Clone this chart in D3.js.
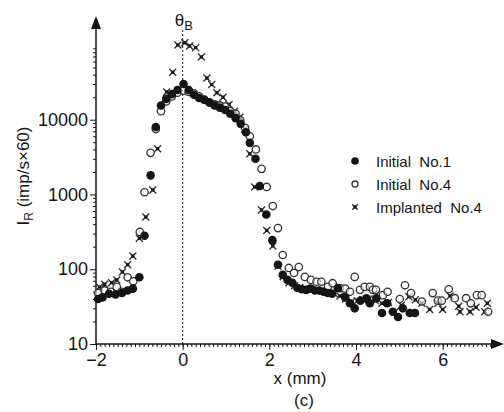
<!DOCTYPE html>
<html>
<head>
<meta charset="utf-8">
<script src="https://cdn.jsdelivr.net/npm/d3@7"></script>
<style>
  body { margin: 0; background: #fff; }
  svg { display: block; font-family: "Liberation Sans", Arial, sans-serif; }
</style>
</head>
<body>
<div id="chart"></div>
<script>
var W = 504, H = 412;

// data: x (mm), I_R (imp/s x60)
var initial1X = [-1.95,-1.85,-1.7,-1.55,-1.4,-1.27,-1.15,-1.0,-0.88,-0.74,-0.62,-0.5,-0.38,-0.25,-0.12,0.02,0.14,0.26,0.38,0.5,0.62,0.74,0.86,0.98,1.1,1.22,1.34,1.46,1.55,1.68,1.78,1.93,2.07,2.2,2.31,2.42,2.53,2.65,2.75,2.85,2.95,3.05,3.15,3.25,3.35,3.45,3.58,3.75,3.86,3.97,4.1,4.24,4.32,4.47,4.6,4.72,4.85,4.97,5.08,5.24,5.36];
var initial1Y = [40,42,47,46,48,52,55,78,280,1800,8000,15500,19000,22000,25000,30000,25000,21500,19500,18500,17000,15500,14500,13500,12000,10500,8800,6800,4900,3000,1300,540,245,115,84,72,66,56,54,53,55,52,52,50,48,47,56,42,35,30,38,41,35,41,26,35,27,23,30,26,26];

var initial4X = [-1.95,-1.8,-1.66,-1.52,-1.41,-1.27,-1.14,-0.99,-0.88,-0.74,-0.62,-0.5,-0.38,-0.25,-0.12,0.02,0.14,0.26,0.38,0.5,0.62,0.74,0.86,0.98,1.1,1.22,1.33,1.44,1.55,1.69,1.82,1.94,2.08,2.2,2.31,2.45,2.57,2.68,2.82,2.96,3.09,3.2,3.35,3.46,3.63,3.75,3.86,3.97,4.09,4.2,4.32,4.39,4.46,4.62,4.73,5.01,5.13,5.27,5.52,5.77,5.89,5.98,6.14,6.28,6.54,6.65,6.79,6.9,7.05];
var initial4Y = [48,52,50,58,50,78,69,315,1070,3600,7500,13000,17500,20500,23000,24500,23500,22500,20500,18500,17000,16000,15500,15000,13000,12000,9800,7800,6000,4000,2200,1260,700,355,155,104,89,107,79,72,68,68,58,65,56,55,50,79,53,58,58,53,53,45,50,40,61,48,37,48,38,38,54,41,41,35,45,45,27];

var implantedX = [-1.92,-1.8,-1.64,-1.52,-1.39,-1.27,-1.15,-1.0,-0.85,-0.69,-0.58,-0.37,-0.23,-0.11,0.05,0.16,0.3,0.43,0.56,0.67,0.79,0.93,1.07,1.2,1.32,1.43,1.55,1.66,1.82,1.94,2.08,2.2,2.32,2.45,2.58,2.7,2.83,2.96,3.1,3.23,3.36,3.5,3.63,3.76,3.9,4.03,4.16,4.3,4.45,4.6,4.75,4.9,5.05,5.22,5.37,5.52,5.7,5.89,6.0,6.17,6.37,6.4,6.63,6.77,6.97,7.03];
var implantedY = [58,63,66,72,92,115,150,260,500,1150,4100,23500,43000,100000,107000,97000,92000,69000,36000,29500,23000,20000,16000,13000,10800,7500,3500,1260,620,330,205,110,80,66,60,57,55,54,52,51,49,47,44,40,37,38,39,40,38,35,36,27,33,43,39,35,29,35,29,44,32,27,27,31,27,35];

var seriesNames = ['Initial  No.1', 'Initial  No.4', 'Implanted  No.4'];
var yTickValues = [10, 100, 1000, 10000];
var xTickValues = [-2, 0, 2, 4, 6];

var series = [
    {name: seriesNames[0], kind: 'filled', xs: initial1X, ys: initial1Y},
    {name: seriesNames[1], kind: 'open', xs: initial4X, ys: initial4Y},
    {name: seriesNames[2], kind: 'star', xs: implantedX, ys: implantedY}
];

var ink = '#151515';

var svg = d3.select('#chart').append('svg')
    .attr('width', W)
    .attr('height', H);

var x = d3.scaleLinear().domain([-2, 7.3]).range([96, 499]);
var y = d3.scaleLog().domain([10, Math.pow(10, 5.36)]).range([344, 18]);

// minor ticks, log decades on y, every 0.1 mm on x
var yMinor = [];
for (var d = 10; d < 100000; d *= 10)
    for (var k = 2; k <= 9; k++) yMinor.push(d * k);
var xMinor = d3.range(-20, 73).map(function (v) { return v / 10; });

svg.append('g')
    .attr('transform', 'translate(' + x(-2) + ',0)')
    .call(d3.axisLeft(y).tickValues(yMinor).tickSize(3).tickFormat(''))
    .call(function (g) { g.select('.domain').remove(); });

svg.append('g')
    .attr('transform', 'translate(0,' + y(10) + ')')
    .call(d3.axisBottom(x).tickValues(xMinor).tickSize(3).tickFormat(''))
    .call(function (g) { g.select('.domain').remove(); });

var yAxis = svg.append('g')
    .attr('transform', 'translate(' + x(-2) + ',0)')
    .call(d3.axisLeft(y).tickValues(yTickValues).tickSize(6).tickPadding(2).tickFormat(d3.format('d')));
yAxis.select('.domain').remove();
yAxis.selectAll('text').style('font-size', '18px').attr('fill', ink);

var xAxis = svg.append('g')
    .attr('transform', 'translate(0,' + y(10) + ')')
    .call(d3.axisBottom(x).tickValues(xTickValues).tickSize(6).tickPadding(3)
        .tickFormat(function (v) { return v < 0 ? '\u2212' + (-v) : v; }));
xAxis.select('.domain').remove();
xAxis.selectAll('text').style('font-size', '18px').attr('fill', ink);

svg.selectAll('.tick line').attr('stroke', ink);

// axis lines with arrow heads
svg.append('line')
    .attr('x1', x(-2)).attr('x2', x(-2))
    .attr('y1', y(10)).attr('y2', 26)
    .attr('stroke', ink).attr('stroke-width', 1.5);
svg.append('path')
    .attr('d', 'M' + (x(-2) - 5) + ',29 L' + x(-2) + ',16 L' + (x(-2) + 5) + ',29 Z')
    .attr('fill', ink);
svg.append('line')
    .attr('x1', x(-2)).attr('x2', 494)
    .attr('y1', y(10)).attr('y2', y(10))
    .attr('stroke', ink).attr('stroke-width', 1.5);
svg.append('path')
    .attr('d', 'M491,' + (y(10) - 5) + ' L504,' + y(10) + ' L491,' + (y(10) + 5) + ' Z')
    .attr('fill', ink);

// Bragg angle line
svg.append('line')
    .attr('x1', x(0)).attr('x2', x(0))
    .attr('y1', 30).attr('y2', y(10))
    .attr('stroke', ink).attr('stroke-width', 1)
    .attr('stroke-dasharray', '2,2');

var theta = svg.append('text')
    .attr('x', x(0) - 8).attr('y', 26)
    .style('font-size', '17px').attr('fill', ink)
    .text('\u03b8');
theta.append('tspan').attr('dy', 4).style('font-size', '13px').text('B');

// axis titles
var yTitle = svg.append('text')
    .attr('transform', 'translate(29,176) rotate(-90)')
    .attr('text-anchor', 'middle')
    .style('font-size', '17px').attr('fill', ink);
yTitle.append('tspan').text('I');
yTitle.append('tspan').attr('dy', 4).style('font-size', '12px').text('R');
yTitle.append('tspan').attr('dy', -4).text(' (imp/s\u00d760)');

svg.append('text')
    .attr('x', 300).attr('y', 384)
    .attr('text-anchor', 'middle')
    .style('font-size', '17px').attr('fill', ink)
    .text('x (mm)');
svg.append('text')
    .attr('x', 304).attr('y', 406)
    .attr('text-anchor', 'middle')
    .style('font-size', '17px').attr('fill', ink)
    .text('(c)');

// markers
function drawMarker(g, kind, size) {
    if (kind === 'filled') {
        g.append('circle').attr('r', size).attr('fill', ink);
    } else if (kind === 'open') {
        g.append('circle').attr('r', size - 0.6)
            .attr('fill', '#fff').attr('fill-opacity', 0.6)
            .attr('stroke', '#333').attr('stroke-width', 1.3);
    } else {
        var s = size - 0.8;
        g.append('path')
            .attr('d', 'M' + (-s) + ',' + (-s) + 'L' + s + ',' + s + 'M' + (-s) + ',' + s + 'L' + s + ',' + (-s))
            .attr('stroke', '#333').attr('stroke-width', 1.4);
        g.append('rect').attr('x', -1.6).attr('y', -1.6).attr('width', 3.2).attr('height', 3.2)
            .attr('fill', ink);
    }
}

// stars first, then open, then filled on top
[series[2], series[1], series[0]].forEach(function (s) {
    var pts = s.xs.map(function (v, i) { return {x: v, y: s.ys[i]}; });
    svg.append('g').selectAll('g').data(pts).enter().append('g')
        .attr('transform', function (p) { return 'translate(' + x(p.x) + ',' + y(p.y) + ')'; })
        .each(function () { drawMarker(d3.select(this), s.kind, 4.3); });
});

// legend
var legend = svg.append('g').attr('transform', 'translate(355,161)');
series.forEach(function (s, i) {
    var row = legend.append('g').attr('transform', 'translate(0,' + (i * 23) + ')');
    drawMarker(row, s.kind, s.kind === 'filled' ? 3.8 : 3.6);
    row.append('text')
        .attr('x', 21).attr('y', 5.5)
        .style('font-size', '15px').attr('fill', ink)
        .style('white-space', 'pre')
        .text(s.name);
});
</script>
</body>
</html>
